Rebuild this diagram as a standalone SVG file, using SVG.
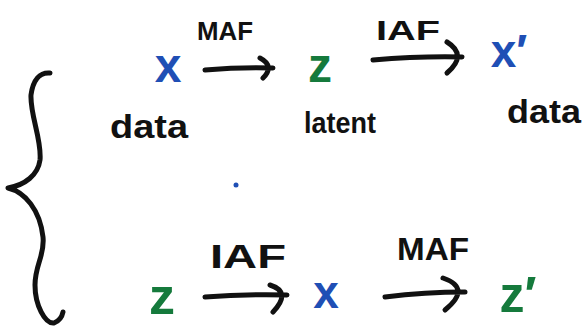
<svg xmlns="http://www.w3.org/2000/svg" width="584" height="327" viewBox="0 0 584 327">
<style>
.lbl{font-family:"Liberation Sans","DejaVu Sans",sans-serif;font-weight:bold;fill:#111;text-anchor:middle}
.var{font-family:"Liberation Sans","DejaVu Sans",sans-serif;font-weight:bold;text-anchor:middle}
.blue{fill:#1f4fb5}
.green{fill:#157a3c}
.ink{fill:none;stroke:#111;stroke-width:5;stroke-linecap:round;stroke-linejoin:round}
</style>
<rect width="584" height="327" fill="#fff"/>
<g id="brace"><path class="ink" stroke-width="4" d="M50,73 C40,72 33,80 31,95 C30,115 42,140 40,160 C38,175 25,185 8,188 C25,192 40,210 43,237 C45,255 35,265 35,285 C35,305 45,324 54,323 C59,321 62,317 63,312"/></g>
<g id="top-x"><text class="var blue" x="168" y="82" font-size="48">x</text><text class="lbl" x="149" y="138" font-size="34" textLength="78" lengthAdjust="spacingAndGlyphs">data</text></g>
<g id="top-z"><text class="var green" x="320" y="82" font-size="48">z</text><text class="lbl" x="340" y="133" font-size="30" textLength="72" lengthAdjust="spacingAndGlyphs">latent</text></g>
<g id="top-x-prime"><text class="var blue" x="509" y="67" font-size="46">x′</text><text class="lbl" x="544" y="123" font-size="34" textLength="74" lengthAdjust="spacingAndGlyphs">data</text></g>
<g id="bottom-z"><text class="var green" x="162" y="314" font-size="52">z</text></g>
<g id="bottom-x"><text class="var blue" x="326" y="308" font-size="46">x</text></g>
<g id="bottom-z-prime"><text class="var green" x="518" y="312" font-size="50">z′</text></g>
<circle cx="236" cy="185" r="2.5" fill="#1f4fb5"/>
<g id="connectors">
<path class="ink" d="M205,70 Q240,67 273,68 M260,58 Q275,66 263,78"/>
<text class="lbl" x="225" y="40" font-size="26" textLength="56" lengthAdjust="spacingAndGlyphs">MAF</text>
<path class="ink" d="M373,60 Q420,56 462,57 M447,42 Q468,55 447,73"/>
<text class="lbl" x="408" y="40" font-size="28" textLength="64" lengthAdjust="spacingAndGlyphs">IAF</text>
<path class="ink" d="M205,297 Q245,294 287,295 M270,285 Q292,292 273,312"/>
<text class="lbl" x="248" y="268" font-size="34" textLength="76" lengthAdjust="spacingAndGlyphs">IAF</text>
<path class="ink" d="M385,297 Q425,292 465,292 M443,278 Q472,288 445,310"/>
<text class="lbl" x="433" y="260" font-size="32" textLength="72" lengthAdjust="spacingAndGlyphs">MAF</text>
</g>
</svg>
